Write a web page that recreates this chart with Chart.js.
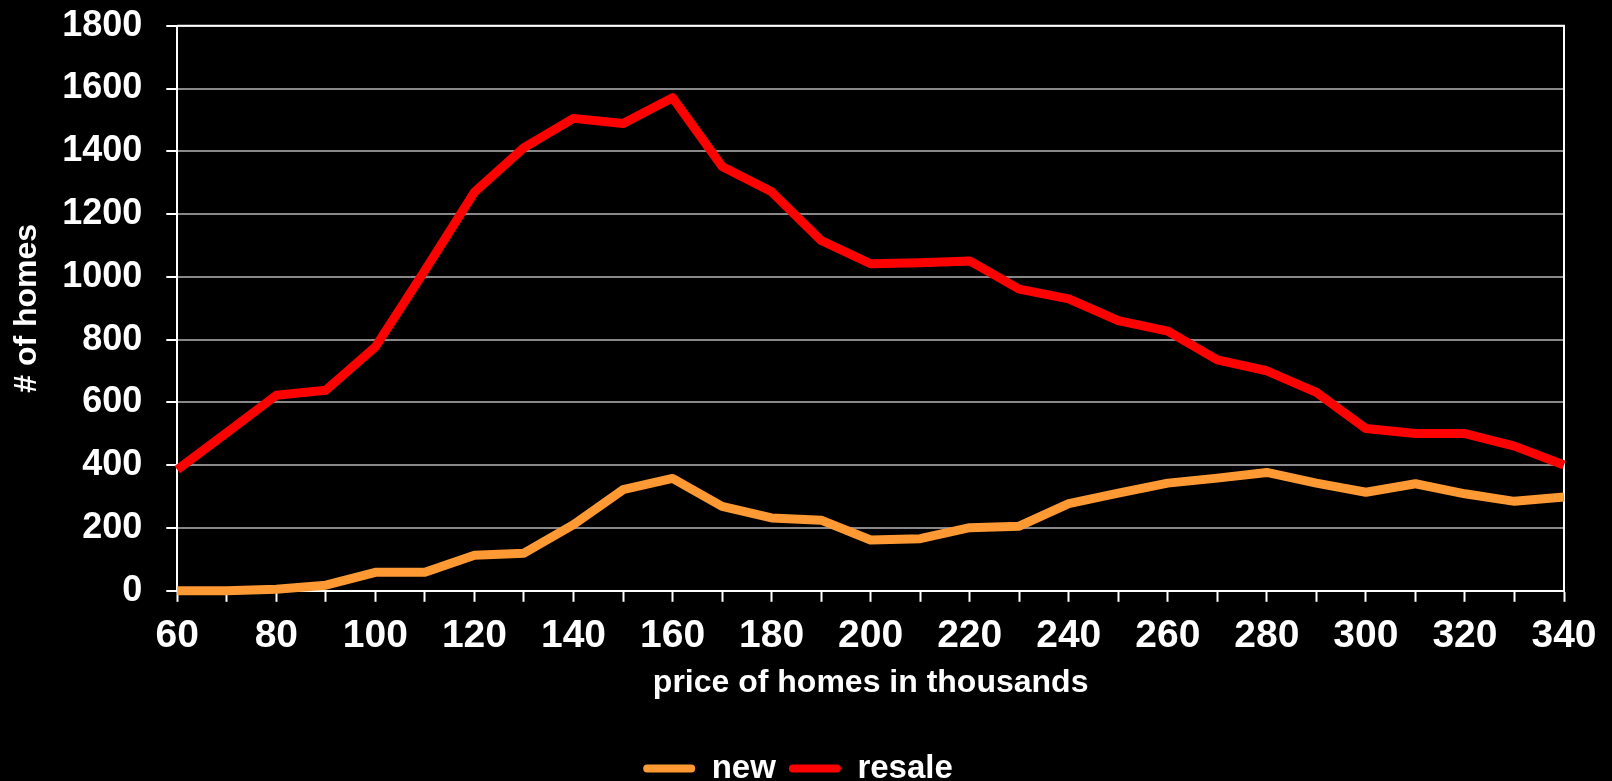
<!DOCTYPE html>
<html>
<head>
<meta charset="utf-8">
<script src="https://cdn.jsdelivr.net/npm/chart.js@4.4.1/dist/chart.umd.min.js"></script>
<style>
  html, body { margin: 0; padding: 0; background: #000; }
  #wrap { width: 1612px; height: 781px; position: relative; }
</style>
</head>
<body>
<div id="wrap"><canvas id="c"></canvas></div>
<script>
const categories = [60, 70, 80, 90, 100, 110, 120, 130, 140, 150, 160, 170, 180, 190, 200, 210, 220, 230, 240, 250, 260, 270, 280, 290, 300, 310, 320, 330, 340];
const newHomes = [0, 0, 5, 18, 59, 59, 113, 120, 211, 322, 358, 269, 232, 225, 162, 166, 201, 206, 278, 311, 343, 359, 377, 343, 314, 341, 309, 285, 299];
const resale = [386, 504, 623, 639, 777, 1021, 1270, 1412, 1505, 1489, 1571, 1352, 1271, 1116, 1042, 1045, 1051, 961, 930, 861, 827, 736, 701, 632, 517, 501, 501, 461, 401];
const yTicks = [0, 200, 400, 600, 800, 1000, 1200, 1400, 1600, 1800];
const seriesNames = ['new', 'resale'];
const xTitle = 'price of homes in thousands';
const yTitle = '# of homes';

const FONT = '"Liberation Sans", Arial, Helvetica, sans-serif';
Chart.defaults.color = '#ffffff';
Chart.defaults.font.family = FONT;

const framePlugin = {
  id: 'frame',
  beforeDatasetsDraw(chart) {
    const a = chart.chartArea, ctx = chart.ctx;
    ctx.save();
    ctx.strokeStyle = '#ffffff';
    ctx.lineWidth = 2;
    ctx.beginPath();
    ctx.moveTo(a.left, a.top);
    ctx.lineTo(a.right, a.top);
    ctx.lineTo(a.right, a.bottom);
    ctx.stroke();
    ctx.restore();
  }
};

new Chart(document.getElementById('c'), {
  type: 'line',
  data: {
    labels: categories,
    datasets: [
      { label: seriesNames[0], data: newHomes, borderColor: '#ff9933', backgroundColor: '#ff9933', borderWidth: 9, pointRadius: 0, tension: 0, clip: false, borderJoinStyle: 'round' },
      { label: seriesNames[1], data: resale, borderColor: '#ff0000', backgroundColor: '#ff0000', borderWidth: 9, pointRadius: 0, tension: 0, clip: false, borderJoinStyle: 'round' }
    ]
  },
  options: {
    responsive: true,
    maintainAspectRatio: false,
    animation: false,
    layout: { padding: { left: 32, right: 48, top: 0, bottom: -14 } },
    plugins: {
      tooltip: { enabled: false },
      legend: {
        position: 'bottom',
        labels: {
          color: '#ffffff',
          font: { size: 33, weight: 'bold', family: FONT },
          boxWidth: 52,
          boxHeight: 8,
          padding: 13,
          useBorderRadius: true,
          borderRadius: 4,
          generateLabels(chart) {
            return chart.data.datasets.map((ds, i) => ({
              text: ds.label,
              fillStyle: ds.borderColor,
              strokeStyle: ds.borderColor,
              lineWidth: 0,
              fontColor: '#ffffff',
              hidden: false,
              borderRadius: 4,
              datasetIndex: i
            }));
          }
        }
      }
    },
    scales: {
      x: {
        type: 'category',
        offset: false,
        grid: { display: true, drawOnChartArea: false, drawTicks: true, tickLength: 11, tickColor: '#ffffff', tickWidth: 2, offset: false },
        border: { display: true, color: '#ffffff', width: 2 },
        ticks: {
          autoSkip: false, maxRotation: 0, minRotation: 0, padding: 11,
          color: '#ffffff',
          font: { size: 39, weight: 'bold', family: FONT },
          callback(val, idx) { return idx % 2 === 0 ? String(categories[idx]) : ''; }
        },
        title: { display: true, text: xTitle, color: '#ffffff', font: { size: 32, weight: 'bold', family: FONT }, padding: { top: -7, bottom: 37 } }
      },
      y: {
        min: yTicks[0],
        max: yTicks[yTicks.length - 1],
        afterBuildTicks(scale) { scale.ticks = yTicks.map(v => ({ value: v })); },
        grid: { color: '#888888', lineWidth: 2, tickColor: '#ffffff', tickWidth: 2, tickLength: 11 },
        border: { display: true, color: '#ffffff', width: 2 },
        ticks: {
          padding: 24,
          color: '#ffffff',
          font: { size: 36, weight: 'bold', family: FONT, lineHeight: 0.1 },
          callback(v) { return String(v); }
        },
        title: { display: true, text: yTitle, color: '#ffffff', font: { size: 32, weight: 'bold', family: FONT }, padding: { top: -23.6, bottom: -8.6 } }
      }
    }
  },
  plugins: [framePlugin]
});
</script>
</body>
</html>
